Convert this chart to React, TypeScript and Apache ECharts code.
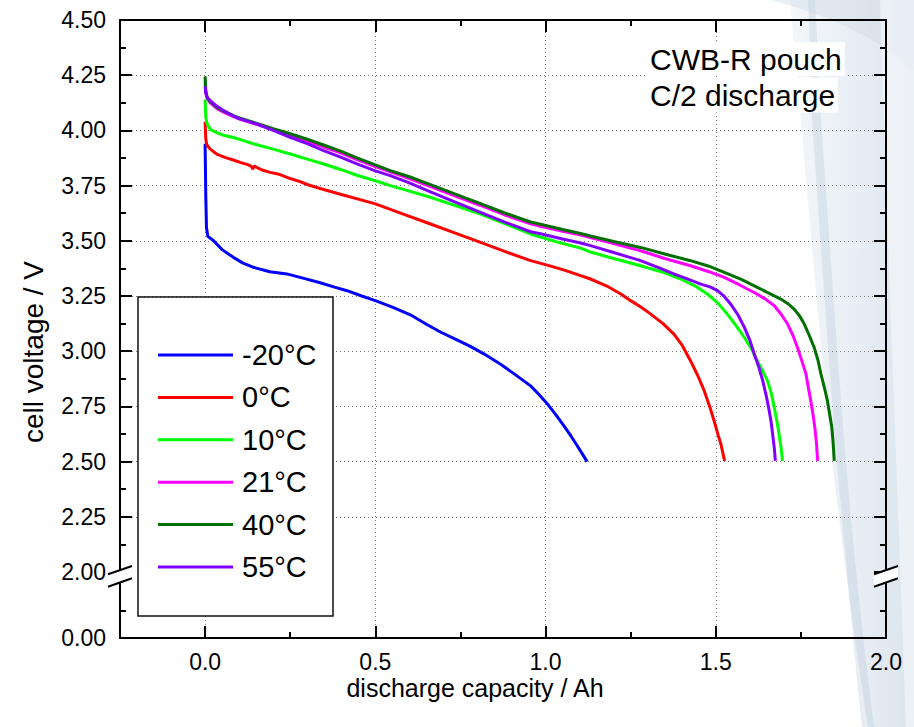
import React, { useEffect, useRef } from 'react';
import * as echarts from 'echarts';

// ---------- data ----------
const seriesNames = ['-20°C', '0°C', '10°C', '21°C', '40°C', '55°C'];
const seriesColors = ['#0000ff', '#ff0000', '#00ff00', '#ff00ff', '#006f00', '#8000ff'];

const curveM20: [number, number][] = [
  [0, 3.94], [0.002, 3.7], [0.004, 3.56], [0.008, 3.52], [0.025, 3.5], [0.05, 3.46],
  [0.083, 3.425], [0.11, 3.4], [0.142, 3.38], [0.19, 3.36], [0.24, 3.35], [0.29, 3.33],
  [0.338, 3.31], [0.38, 3.29], [0.417, 3.274], [0.46, 3.25], [0.5, 3.229], [0.55, 3.2],
  [0.603, 3.165], [0.65, 3.122], [0.691, 3.087], [0.735, 3.055], [0.779, 3.022], [0.82, 2.987],
  [0.868, 2.941], [0.91, 2.895], [0.956, 2.843], [0.98, 2.805], [1.005, 2.762], [1.03, 2.713],
  [1.054, 2.662], [1.075, 2.615], [1.093, 2.572], [1.108, 2.535], [1.122, 2.5],
];
const curve0: [number, number][] = [
  [0, 4.04], [0.002, 3.96], [0.005, 3.935], [0.015, 3.915], [0.034, 3.893], [0.06, 3.877],
  [0.083, 3.866], [0.103, 3.855], [0.125, 3.845], [0.135, 3.838], [0.14, 3.826], [0.145, 3.838],
  [0.152, 3.832], [0.165, 3.822], [0.191, 3.81], [0.22, 3.8], [0.25, 3.782], [0.279, 3.768],
  [0.3, 3.755], [0.338, 3.737], [0.4, 3.71], [0.466, 3.682], [0.5, 3.667], [0.58, 3.622],
  [0.662, 3.576], [0.735, 3.535], [0.809, 3.493], [0.88, 3.452], [0.956, 3.41], [1.005, 3.39],
  [1.055, 3.367], [1.103, 3.342], [1.132, 3.327], [1.18, 3.295], [1.221, 3.259], [1.25, 3.229],
  [1.28, 3.2], [1.309, 3.168], [1.345, 3.125], [1.377, 3.077], [1.4, 3.03], [1.426, 2.956],
  [1.447, 2.89], [1.466, 2.821], [1.482, 2.75], [1.495, 2.685], [1.507, 2.62], [1.515, 2.579],
  [1.526, 2.503],
];
const curve10: [number, number][] = [
  [0, 4.14], [0.002, 4.06], [0.006, 4.03], [0.015, 4.005], [0.034, 3.99], [0.054, 3.978],
  [0.083, 3.968], [0.12, 3.95], [0.152, 3.935], [0.2, 3.915], [0.25, 3.893], [0.3, 3.87],
  [0.348, 3.848], [0.4, 3.822], [0.446, 3.797], [0.5, 3.772], [0.544, 3.75], [0.6, 3.725],
  [0.662, 3.697], [0.735, 3.66], [0.809, 3.621], [0.88, 3.578], [0.956, 3.531], [0.985, 3.517],
  [1.04, 3.492], [1.103, 3.467], [1.132, 3.449], [1.2, 3.42], [1.279, 3.387], [1.34, 3.36],
  [1.397, 3.327], [1.44, 3.295], [1.475, 3.259], [1.505, 3.22], [1.534, 3.168], [1.56, 3.115],
  [1.584, 3.062], [1.605, 3.01], [1.622, 2.956], [1.638, 2.91], [1.652, 2.866], [1.663, 2.81],
  [1.672, 2.745], [1.68, 2.68], [1.686, 2.624], [1.692, 2.56], [1.696, 2.503],
];
const curve21: [number, number][] = [
  [0, 4.22], [0.002, 4.17], [0.006, 4.145], [0.015, 4.125], [0.034, 4.1], [0.054, 4.083],
  [0.083, 4.062], [0.103, 4.05], [0.152, 4.027], [0.2, 4.003], [0.25, 3.978], [0.3, 3.952],
  [0.348, 3.925], [0.4, 3.897], [0.446, 3.868], [0.5, 3.836], [0.544, 3.812], [0.6, 3.782],
  [0.662, 3.746], [0.735, 3.703], [0.809, 3.66], [0.88, 3.617], [0.956, 3.577], [0.985, 3.566],
  [1.05, 3.543], [1.103, 3.526], [1.132, 3.515], [1.2, 3.487], [1.279, 3.455], [1.35, 3.42],
  [1.426, 3.387], [1.48, 3.36], [1.525, 3.334], [1.57, 3.3], [1.613, 3.266], [1.645, 3.237],
  [1.672, 3.206], [1.693, 3.165], [1.711, 3.123], [1.727, 3.07], [1.74, 3.017], [1.753, 2.955],
  [1.765, 2.896], [1.772, 2.835], [1.779, 2.775], [1.786, 2.71], [1.791, 2.654], [1.796, 2.58],
  [1.799, 2.503],
];
const curve40: [number, number][] = [
  [0, 4.245], [0.002, 4.18], [0.006, 4.15], [0.015, 4.13], [0.034, 4.105], [0.054, 4.088],
  [0.083, 4.067], [0.103, 4.055], [0.152, 4.032], [0.2, 4.008], [0.25, 3.985], [0.3, 3.96],
  [0.348, 3.934], [0.4, 3.905], [0.446, 3.876], [0.5, 3.844], [0.544, 3.818], [0.6, 3.79],
  [0.662, 3.754], [0.735, 3.711], [0.809, 3.668], [0.88, 3.626], [0.956, 3.585], [0.985, 3.575],
  [1.05, 3.551], [1.103, 3.533], [1.132, 3.522], [1.2, 3.497], [1.279, 3.47], [1.35, 3.44],
  [1.426, 3.41], [1.48, 3.385], [1.525, 3.357], [1.575, 3.325], [1.622, 3.289], [1.66, 3.26],
  [1.691, 3.236], [1.712, 3.215], [1.73, 3.191], [1.746, 3.16], [1.76, 3.123], [1.775, 3.07],
  [1.789, 3.017], [1.8, 2.96], [1.809, 2.896], [1.819, 2.835], [1.828, 2.775], [1.835, 2.71],
  [1.841, 2.654], [1.845, 2.58], [1.848, 2.503],
];
const curve55: [number, number][] = [
  [0, 4.2], [0.002, 4.17], [0.006, 4.15], [0.015, 4.135], [0.034, 4.11], [0.054, 4.09],
  [0.083, 4.065], [0.103, 4.052], [0.152, 4.029], [0.2, 4.0], [0.25, 3.969], [0.3, 3.94],
  [0.348, 3.908], [0.4, 3.878], [0.446, 3.848], [0.5, 3.817], [0.544, 3.795], [0.6, 3.762],
  [0.662, 3.722], [0.735, 3.675], [0.809, 3.629], [0.88, 3.585], [0.956, 3.541], [0.985, 3.532],
  [1.05, 3.508], [1.103, 3.49], [1.132, 3.478], [1.2, 3.447], [1.279, 3.41], [1.33, 3.38],
  [1.377, 3.35], [1.42, 3.325], [1.456, 3.304], [1.485, 3.29], [1.505, 3.274], [1.525, 3.248],
  [1.544, 3.213], [1.565, 3.165], [1.584, 3.108], [1.6, 3.05], [1.613, 2.987], [1.627, 2.925],
  [1.638, 2.866], [1.648, 2.8], [1.657, 2.73], [1.663, 2.675], [1.667, 2.624], [1.672, 2.56],
  [1.675, 2.503],
];
const curves = [curveM20, curve0, curve10, curve21, curve40, curve55];

// axis ranges
const X_MIN = -0.25;
const X_MAX = 2.0;
const X_STEP = 0.5;
const Y_MIN = 2.0;
const Y_MAX = 4.5;
const Y_STEP = 0.25;
const Y_LOW_MIN = 0;

const noteLines = ['CWB-R pouch', 'C/2 discharge'];
const xTitle = 'discharge capacity / Ah';
const yTitle = 'cell voltage / V';

// ---------- layout ----------
const W = 914;
const H = 727;
const GRID_LEFT = 120;
const GRID_WIDTH = 766;
const UPPER_TOP = 20;
const UPPER_H = 552;
const LOWER_H = 66;
const LOWER_TOP = UPPER_TOP + UPPER_H;
const Y_LOW_MAX = (LOWER_H * (Y_MAX - Y_MIN)) / UPPER_H;
const FONT = 'Arial, "Liberation Sans", Helvetica, sans-serif';
const AX = { color: '#000', width: 2 };
const DOT = { color: '#7a7a7a', width: 1, type: [1, 3] as any };

echarts.graphic.registerShape(
  'swooshA',
  echarts.graphic.extendPath(
    'M790 0 L914 0 L914 727 L868 727 C855 640 838 520 828 420 C818 320 808 200 800 110 C796 60 792 30 790 0 Z',
    {}
  )
);
echarts.graphic.registerShape(
  'swooshB',
  echarts.graphic.extendPath(
    'M812 120 C822 260 832 420 846 560 C852 630 858 690 862 727 L874 727 C868 680 861 620 855 560 C841 420 831 260 821 120 C819 80 817 40 815 0 L808 0 C810 40 811 80 812 120 Z',
    {}
  )
);
echarts.graphic.registerShape(
  'swooshC',
  echarts.graphic.extendPath(
    'M770 0 L914 0 L914 70 C880 40 830 15 770 0 Z',
    {}
  )
);
echarts.graphic.registerShape(
  'swooshD',
  echarts.graphic.extendPath(
    'M880 0 C886 200 896 450 906 727 L914 727 L914 0 Z',
    {}
  )
);

function breakMark(x0: number, id: string) {
  const yA1 = LOWER_TOP + 2.3;
  const yA2 = LOWER_TOP - 6;
  const yB1 = LOWER_TOP + 14.7;
  const yB2 = LOWER_TOP + 6.3;
  return [
    {
      type: 'polygon',
      id: id + 'p',
      z: 50,
      shape: { points: [[x0 - 12, yA1], [x0 + 12, yA2], [x0 + 12, yB2], [x0 - 12, yB1]] },
      style: { fill: '#fff' },
    },
    {
      type: 'line',
      id: id + 'a',
      z: 51,
      shape: { x1: x0 - 12, y1: yA1, x2: x0 + 12, y2: yA2 },
      style: { stroke: '#000', lineWidth: 2 },
    },
    {
      type: 'line',
      id: id + 'b',
      z: 51,
      shape: { x1: x0 - 12, y1: yB1, x2: x0 + 12, y2: yB2 },
      style: { stroke: '#000', lineWidth: 2 },
    },
  ];
}

function buildOption(): any {
  const xScale = { min: X_MIN, max: X_MAX, minInterval: X_STEP, maxInterval: X_STEP, type: 'value' };
  const tickOn = { show: true, inside: true, length: 12, lineStyle: AX };
  const minorOn = { show: true, splitNumber: 2, length: 6, lineStyle: AX };
  const labelStyle = { color: '#000', fontSize: 23, fontFamily: FONT };
  const line = { show: true, onZero: false, lineStyle: AX };

  return {
    animation: false,
    backgroundColor: '#fff',
    grid: [
      { left: GRID_LEFT, top: UPPER_TOP, width: GRID_WIDTH, height: UPPER_H, containLabel: false, outerBoundsMode: 'none' },
      { left: GRID_LEFT, top: LOWER_TOP, width: GRID_WIDTH, height: LOWER_H, containLabel: false, outerBoundsMode: 'none' },
    ],
    xAxis: [
      {
        ...xScale, gridIndex: 0, position: 'bottom',
        axisLine: { show: false, onZero: false }, axisTick: { show: false }, axisLabel: { show: false },
        splitLine: { show: true, lineStyle: DOT },
      },
      {
        ...xScale, gridIndex: 0, position: 'top',
        axisLine: line, axisTick: tickOn, minorTick: minorOn,
        axisLabel: { show: false }, splitLine: { show: false },
      },
      {
        ...xScale, gridIndex: 1, position: 'bottom',
        axisLine: line, axisTick: tickOn, minorTick: minorOn,
        axisLabel: { ...labelStyle, margin: 12, formatter: (v: number) => (v < 0 ? '' : v.toFixed(1)) },
        splitLine: { show: true, lineStyle: DOT },
      },
    ],
    yAxis: [
      {
        type: 'value', gridIndex: 0, position: 'left', min: Y_MIN, max: Y_MAX, interval: Y_STEP,
        axisLine: line, axisTick: tickOn, minorTick: minorOn,
        axisLabel: { ...labelStyle, margin: 14, formatter: (v: number) => v.toFixed(2) },
        splitLine: { show: true, lineStyle: DOT, showMinLine: false, showMaxLine: false },
      },
      {
        type: 'value', gridIndex: 0, position: 'right', min: Y_MIN, max: Y_MAX, interval: Y_STEP,
        axisLine: line, axisTick: tickOn, minorTick: minorOn,
        axisLabel: { show: false }, splitLine: { show: false },
      },
      {
        type: 'value', gridIndex: 1, position: 'left', min: Y_LOW_MIN, max: Y_LOW_MAX, interval: Y_STEP,
        axisLine: line, axisTick: { show: false, inside: true }, minorTick: minorOn,
        axisLabel: { ...labelStyle, margin: 14, formatter: (v: number) => (v === 0 ? v.toFixed(2) : '') },
        splitLine: { show: false },
      },
      {
        type: 'value', gridIndex: 1, position: 'right', min: Y_LOW_MIN, max: Y_LOW_MAX, interval: Y_STEP,
        axisLine: line, axisTick: { show: false, inside: true }, minorTick: minorOn,
        axisLabel: { show: false }, splitLine: { show: false },
      },
    ],
    legend: {
      show: true,
      data: seriesNames,
      orient: 'vertical',
      left: 158,
      top: 334,
      padding: 0,
      itemGap: 0.4,
      itemWidth: 75,
      itemHeight: 3,
      icon: 'rect',
      selectedMode: false,
      textStyle: { fontSize: 29, color: '#000', fontFamily: FONT, lineHeight: 42, padding: [0, 0, 0, 4] },
      z: 20,
    },
    series: curves.map((c, i) => ({
      type: 'line',
      name: seriesNames[i],
      xAxisIndex: 0,
      yAxisIndex: 0,
      data: c,
      symbol: 'none',
      showSymbol: false,
      smooth: false,
      color: seriesColors[i],
      lineStyle: { color: seriesColors[i], width: 3 },
      z: 2 + i * 0.01,
    })),
    graphic: [
      {
        type: 'swooshA', id: 'sA', z: -5, silent: true,
        style: {
          fill: new echarts.graphic.LinearGradient(0, 0, 1, 0, [
            { offset: 0, color: 'rgba(215,226,236,0.3)' },
            { offset: 1, color: 'rgba(200,214,228,0.65)' },
          ]),
        },
      },
      { type: 'swooshB', id: 'sB', z: -4, silent: true, style: { fill: 'rgba(175,196,214,0.3)' } },
      { type: 'swooshC', id: 'sC', z: -4, silent: true, style: { fill: 'rgba(205,218,230,0.4)' } },
      { type: 'swooshD', id: 'sD', z: -3, silent: true, style: { fill: 'rgba(255,255,255,0.45)' } },
      {
        type: 'rect', id: 'legendBox', z: 15,
        shape: { x: 138, y: 297, width: 195, height: 319 },
        style: { fill: '#fff', stroke: '#111', lineWidth: 1.5 },
      },
      ...breakMark(GRID_LEFT, 'bl'),
      ...breakMark(GRID_LEFT + GRID_WIDTH, 'br'),
      {
        type: 'text', id: 'note1', z: 30, x: 647, y: 59,
        style: {
          text: noteLines[0], font: `30px ${FONT}`, fill: '#000',
          align: 'left', verticalAlign: 'middle', textAlign: 'left', textVerticalAlign: 'middle',
          backgroundColor: '#fff', padding: [2, 3, 2, 3],
        },
      },
      {
        type: 'text', id: 'note2', z: 30, x: 647, y: 95,
        style: {
          text: noteLines[1], font: `30px ${FONT}`, fill: '#000',
          align: 'left', verticalAlign: 'middle', textAlign: 'left', textVerticalAlign: 'middle',
          backgroundColor: '#fff', padding: [2, 3, 3, 3],
        },
      },
      {
        type: 'text', id: 'xTitle', z: 30, x: 475, y: 688,
        style: {
          text: xTitle, font: `25px ${FONT}`, fill: '#000',
          align: 'center', verticalAlign: 'middle', textAlign: 'center', textVerticalAlign: 'middle',
        },
      },
      {
        type: 'text', id: 'yTitle', z: 30, x: 33, y: 352, rotation: Math.PI / 2,
        style: {
          text: yTitle, font: `28px ${FONT}`, fill: '#000',
          align: 'center', verticalAlign: 'middle', textAlign: 'center', textVerticalAlign: 'middle',
        },
      },
    ],
  };
}

export default function App() {
  const ref = useRef<HTMLDivElement>(null);
  useEffect(() => {
    if (!ref.current) return;
    const chart = echarts.init(ref.current, null, { renderer: 'svg' });
    chart.setOption(buildOption());
    return () => chart.dispose();
  }, []);
  return (
    <div
      ref={ref}
      style={{ position: 'absolute', left: 0, top: 0, width: W, height: H, background: '#fff' }}
    />
  );
}
